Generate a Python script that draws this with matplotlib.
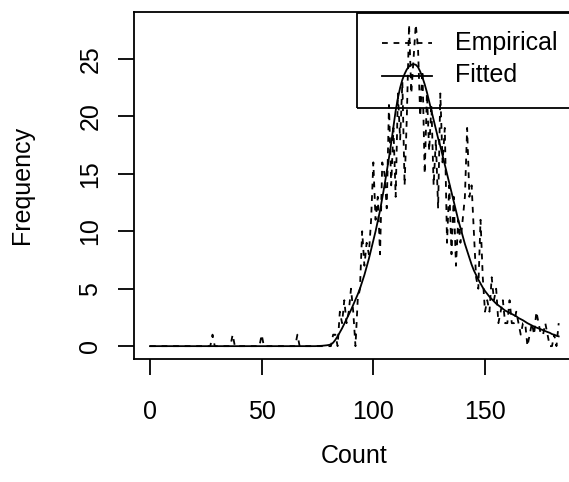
import numpy as np
import matplotlib
matplotlib.use('Agg')
import matplotlib.pyplot as plt
from matplotlib.patches import Rectangle
from matplotlib.lines import Line2D

plt.rcParams['font.family'] = ['Liberation Sans', 'DejaVu Sans']

# counts 0..183
count = np.arange(0, 184)

empirical = (
    [0] * 20 +
    [0, 0, 0, 0, 0, 0, 0, 0, 1, 0, 0, 0, 0, 0, 0, 0, 0, 1, 0, 0] +
    [0, 0, 0, 0, 0, 0, 0, 0, 0, 0, 1, 0, 0, 0, 0, 0, 0, 0, 0, 0] +
    [0, 0, 0, 0, 0, 0, 1, 0, 0, 0, 0, 0, 0, 0, 0, 0, 0, 0, 0, 0] +
    [0, 0, 1, 1, 0, 3, 2, 4, 2, 3, 5, 3, 0, 4, 5, 10, 7, 9, 8, 11] +
    [16, 11, 13, 8, 16, 15, 12, 21, 14, 19, 13, 22, 18, 23, 14, 20, 28, 22, 25, 28] +
    [26, 20, 24, 15, 22, 17, 21, 14, 18, 12, 22, 16, 19, 9, 14, 8, 13, 7, 11, 9] +
    [11, 13, 19, 13, 14, 10, 6, 5, 11, 6, 3, 4, 3, 6, 4, 5, 2, 3, 4, 2] +
    [2, 4, 2, 2, 3, 2, 1, 2, 2, 0, 1, 2, 1, 3, 2, 1, 1, 2, 1, 0] +
    [0, 1, 0, 2]
)

fitted = (
    [0.0] * 75 +
    [0.01, 0.02, 0.03, 0.05, 0.07] +
    [0.1, 0.15, 0.3, 0.55, 0.85, 1.2, 1.55, 1.95, 2.35, 2.75,
     3.15, 3.6, 4.05, 4.5, 5.0, 5.6, 6.2, 6.9, 7.6, 8.4] +
    [9.2, 10.0, 10.9, 11.8, 12.9, 14.0, 15.2, 16.4, 17.7, 19.1,
     20.5, 21.6, 22.5, 23.2, 23.7, 24.1, 24.35, 24.5, 24.55, 24.5] +
    [24.3, 23.9, 23.4, 22.8, 22.1, 21.3, 20.5, 19.7, 18.9, 18.1,
     17.4, 16.6, 15.8, 15.0, 14.2, 13.4, 12.6, 11.8, 11.0, 10.3] +
    [9.6, 8.9, 8.3, 7.7, 7.1, 6.6, 6.2, 5.8, 5.45, 5.1,
     4.8, 4.55, 4.3, 4.1, 3.9, 3.7, 3.55, 3.4, 3.25, 3.1] +
    [3.0, 2.9, 2.8, 2.7, 2.6, 2.45, 2.35, 2.25, 2.12, 2.0,
     1.9, 1.8, 1.7, 1.62, 1.54, 1.46, 1.38, 1.3, 1.23, 1.16] +
    [1.05, 0.98, 0.91, 0.85]
)

xticks = [0, 50, 100, 150]
yticks = [0, 5, 10, 15, 20, 25]
legend_labels = ['Empirical', 'Fitted']

W, H = 569, 482
fig = plt.figure(figsize=(W / 100, H / 100), dpi=100)
ax = fig.add_axes([133.65 / W, 1 - 359 / H, 441.4 / W, 347.3 / H])

lw = 1.3
dashed = (0, (3.2, 3.2))
ax.plot(count, empirical, color='black', lw=lw, linestyle=dashed)
ax.plot(count, fitted, color='black', lw=lw)

# R style padding (4%)
xr = count.max() - count.min()
ax.set_xlim(count.min() - 0.04 * xr, count.max() + 0.04 * xr)
yr = max(empirical)
ax.set_ylim(-0.04 * yr, yr * 1.04)

ax.set_xticks(xticks)
ax.set_yticks(yticks)
ax.tick_params(axis='both', direction='out', length=11.5, width=lw,
               labelsize=18, color='black')
ax.tick_params(axis='x', pad=18)
ax.tick_params(axis='y', pad=11, labelrotation=90)
for lab in ax.get_yticklabels():
    lab.set_va('center')
for sp in ax.spines.values():
    sp.set_linewidth(lw)

ax.set_xlabel('Count', fontsize=18)
ax.xaxis.set_label_coords(0.5, (359 - 456) / 347.3)
ax.xaxis.label.set_va('center')
ax.set_ylabel('Frequency', fontsize=18)
ax.yaxis.set_label_coords((22 - 133.65) / 441.4, 0.5)
ax.yaxis.label.set_va('center')

# legend drawn R-style, box open to the right edge
def fx(px):
    return px / W

def fy(py):
    return 1 - py / H

fig.add_artist(Rectangle((fx(357.3), fy(107.7)), fx(700) - fx(357.3),
                         fy(12.7) - fy(107.7), transform=fig.transFigure,
                         fill=False, edgecolor='black', lw=lw))
styles = [dashed, '-']
rows = [43.3, 75.5]
for lab, ls, py in zip(legend_labels, styles, rows):
    fig.add_artist(Line2D([fx(381.7), fx(431.7)], [fy(py), fy(py)],
                          transform=fig.transFigure, color='black',
                          lw=lw, linestyle=ls))
    fig.text(fx(455), fy(py), lab, fontsize=18, va='center', ha='left')

fig.savefig('out.png', dpi=100)
